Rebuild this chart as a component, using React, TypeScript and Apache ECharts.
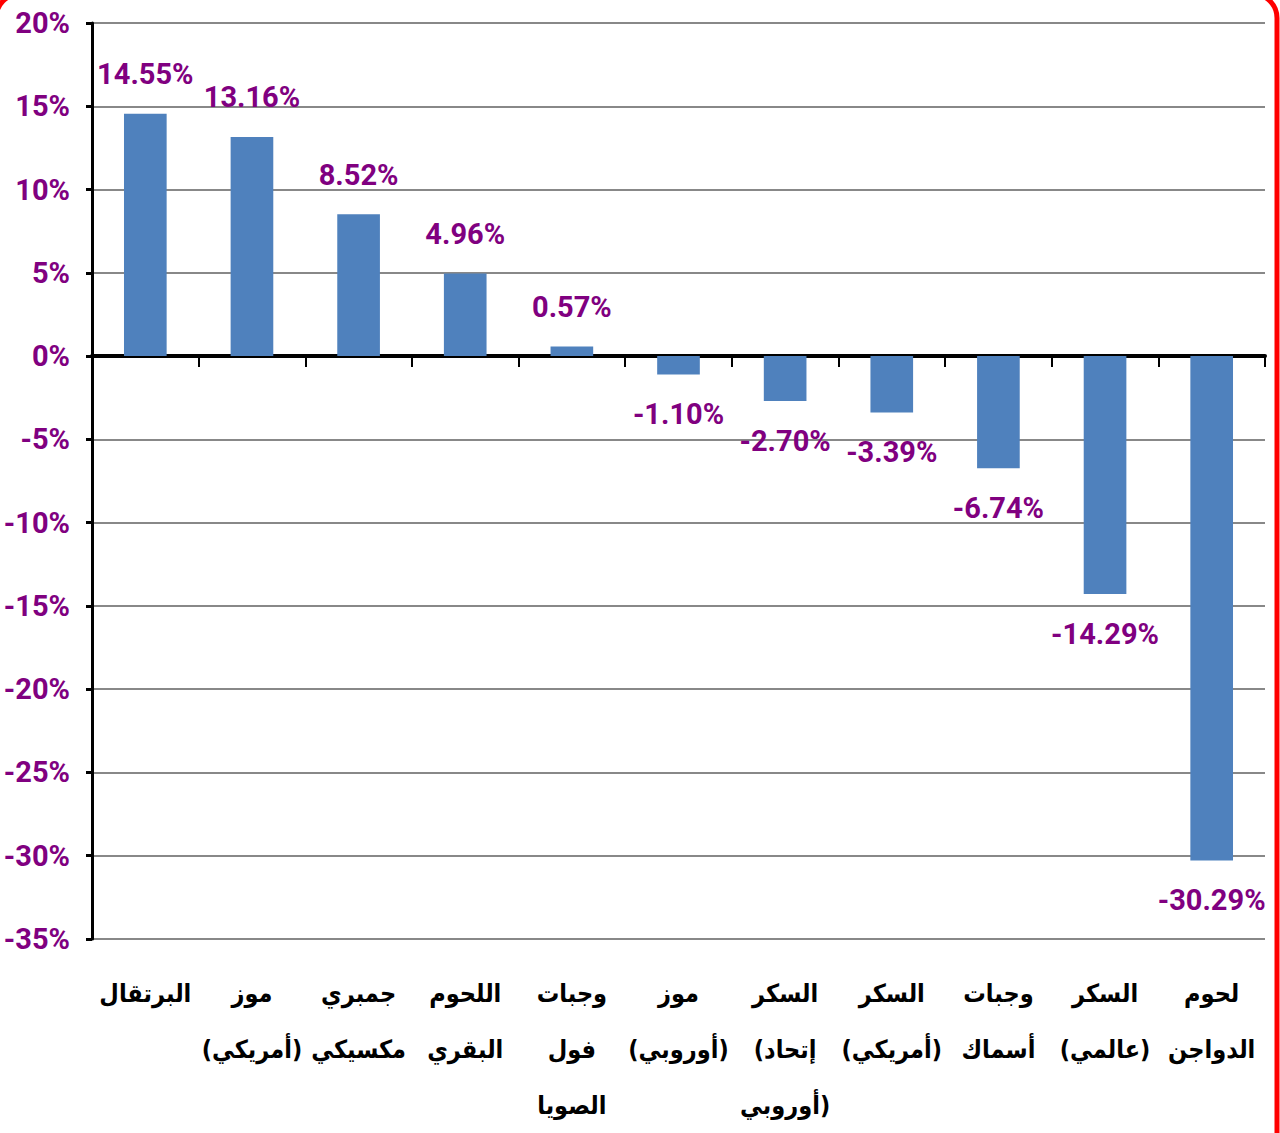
import React, { useEffect, useRef } from "react";
import * as echarts from "echarts";

const categories = [
  "البرتقال",
  "موز\n(أمريكي)",
  "جمبري\nمكسيكي",
  "اللحوم\nالبقري",
  "وجبات\nفول\nالصويا",
  "موز\n(أوروبي)",
  "السكر\n(إتحاد\nأوروبي)",
  "السكر\n(أمريكي)",
  "وجبات\nأسماك",
  "السكر\n(عالمي)",
  "لحوم\nالدواجن",
];
const values = [14.55, 13.16, 8.52, 4.96, 0.57, -1.1, -2.7, -3.39, -6.74, -14.29, -30.29];
const yMin = -35;
const yMax = 20;
const yStep = 5;

const NARROW = "Roboto, 'DejaVu Sans Condensed', sans-serif";
const ARABIC = "'DejaVu Sans Condensed', 'DejaVu Sans', sans-serif";
const PURPLE = "#800080";

export default function App() {
  const ref = useRef<HTMLDivElement>(null);
  useEffect(() => {
    document.body.style.margin = "0";
    const chart = echarts.init(ref.current!, undefined, { renderer: "svg" });
    chart.setOption({
      animation: false,
      backgroundColor: "#ffffff",
      grid: { left: 92, right: 15, top: 23, bottom: 194, outerBoundsMode: "none", containLabel: false },
      xAxis: [
        {
          type: "category",
          data: categories,
          axisLine: { onZero: true, lineStyle: { color: "#000", width: 4 } },
          axisTick: { show: true, length: 11, lineStyle: { color: "#000", width: 2 } },
          axisLabel: { show: false },
        },
        {
          type: "category",
          data: categories,
          position: "bottom",
          axisLine: { show: false },
          axisTick: { show: false },
          axisLabel: {
            margin: 26,
            color: "#000",
            fontFamily: ARABIC,
            fontWeight: "bold",
            fontSize: 25,
            lineHeight: 56,
            interval: 0,
          },
        },
      ],
      yAxis: {
        type: "value",
        min: yMin,
        max: yMax,
        interval: yStep,
        axisLine: { show: true, lineStyle: { color: "#000", width: 3 } },
        axisTick: { show: true, length: 6, lineStyle: { color: "#000", width: 3 } },
        splitLine: { show: true, lineStyle: { color: "#888", width: 2 } },
        axisLabel: {
          formatter: "{value}%",
          margin: 22,
          color: PURPLE,
          fontFamily: NARROW,
          fontWeight: "bold",
          fontSize: 29,
        },
      },
      series: [
        {
          type: "bar",
          xAxisIndex: 0,
          barWidth: "40%",
          itemStyle: { color: "#4F81BD" },
          data: values.map((v) => ({
            value: v,
            label: {
              show: true,
              position: v >= 0 ? "top" : "bottom",
              distance: 25,
              formatter: (p: any) => p.value.toFixed(2) + "%",
              color: PURPLE,
              fontFamily: NARROW,
              fontWeight: "bold",
              fontSize: 29,
            },
          })),
        },
      ],
      graphic: [
        {
          type: "rect",
          shape: { x: -4, y: -6, width: 1281, height: 1250, r: 24 },
          style: { fill: "none", stroke: "#ff0000", lineWidth: 5 },
          silent: true,
          z: 100,
        },
      ],
    });
    return () => chart.dispose();
  }, []);
  return <div ref={ref} style={{ width: 1280, height: 1133 }} />;
}
